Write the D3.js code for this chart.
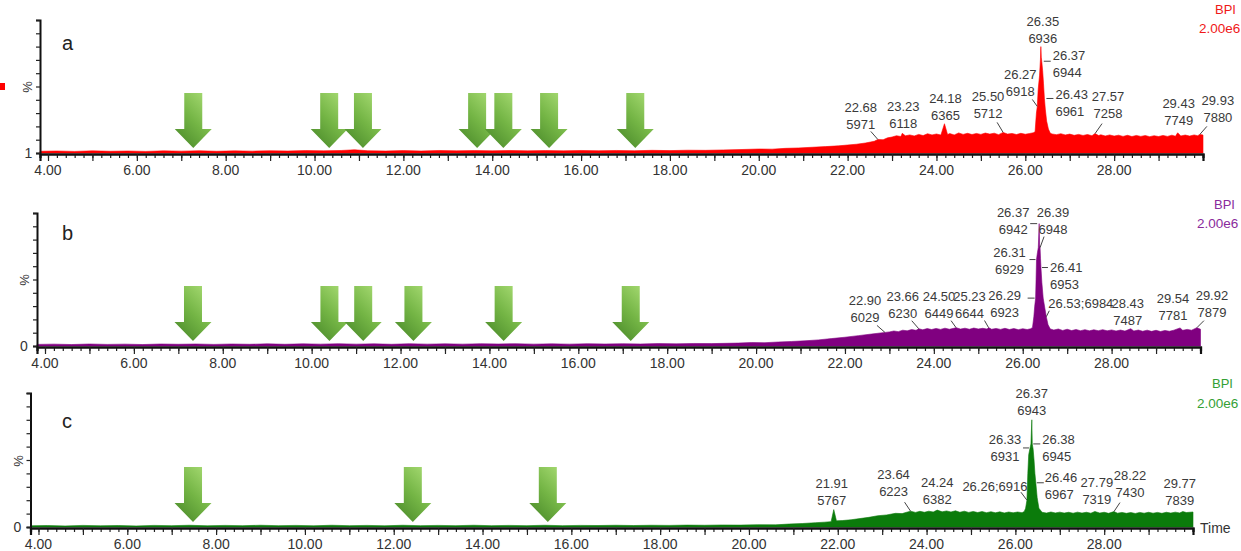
<!DOCTYPE html>
<html><head><meta charset="utf-8">
<script src="https://cdn.jsdelivr.net/npm/d3@7"></script>
<style>
body{margin:0;background:#fff;}
svg{display:block;}
text{font-family:"Liberation Sans",Arial,sans-serif;}
</style>
</head><body>
<svg id="chart" width="1241" height="551"></svg>
<script>
// ---------- data ----------
const xTickValues = [4,6,8,10,12,14,16,18,20,22,24,26,28];
const xTickLabels = ["4.00","6.00","8.00","10.00","12.00","14.00","16.00","18.00","20.00","22.00","24.00","26.00","28.00"];
const yTickPercent = [0,10,20,30,40,50,60,70,80,90,100];
const panelNames = ["a","b","c"];
const yZeroLabels = ["1","0","0"];
const traceName = "BPI";
const scaleLabel = "2.00e6";
const timeLabel = "Time";

// trace a: [retention time (min), relative intensity (%)]
const traceA = [
[3.82,1.3],[4.2,1.5],[4.6,1.2],[5.0,1.6],[5.4,1.3],[5.8,1.5],[6.2,1.2],[6.6,1.6],[7.0,1.4],[7.4,1.7],[7.8,1.3],[8.2,1.6],[8.6,1.4],[9.0,1.7],[9.4,1.5],[9.8,1.8],[10.2,1.6],[10.6,1.9],[10.9,2.4],[11.2,1.7],[11.6,1.5],[12.0,1.8],[12.4,1.5],[12.8,1.9],[13.2,1.6],[13.6,1.8],[14.0,1.6],[14.4,1.9],[14.8,1.6],[15.2,1.8],[15.6,1.6],[16.0,1.9],[16.4,1.7],[16.8,1.9],[17.2,1.7],[17.6,2.0],[18.0,1.8],[18.4,2.1],[18.8,2.0],
[19.2,2.3],[19.6,2.6],[20.0,3.0],[20.3,2.9],[20.6,3.5],[20.9,3.8],[21.2,4.3],[21.5,4.8],[21.8,5.4],[22.0,6.0],[22.2,6.6],[22.4,7.5],[22.6,8.8],[22.68,10.2],[22.8,10.0],[22.9,11.4],[23.0,12.0],
[23.1,13.0],[23.2,12.4],[23.23,14.8],[23.3,12.9],[23.4,13.6],[23.5,12.8],[23.6,14.0],[23.7,13.1],[23.8,14.5],[23.9,13.6],[24.0,14.3],[24.1,13.5],[24.18,22.0],[24.25,13.9],[24.3,14.6],[24.4,13.6],[24.5,15.1],[24.6,14.0],[24.7,14.8],[24.8,13.9],[24.9,14.7],[25.0,14.0],[25.1,15.0],[25.2,14.2],[25.3,14.9],[25.4,13.8],[25.5,15.5],[25.6,14.2],[25.7,14.7],[25.8,13.9],[25.9,14.8],[26.0,14.1],[26.1,14.7],[26.18,15.2],
[26.22,16],[26.25,30],[26.27,35],[26.29,48],[26.32,58],[26.34,70],[26.35,80],[26.36,72],[26.37,69],[26.39,62],[26.41,52],[26.43,41],[26.45,33],[26.48,24],[26.52,18],[26.56,15],
[26.6,14.3],[26.7,13.8],[26.8,14.5],[26.9,13.6],[27.0,14.2],[27.1,13.3],[27.2,14.0],[27.3,13.2],[27.4,13.9],[27.5,13.0],[27.57,14.6],[27.65,13.1],[27.7,13.7],[27.8,12.8],[27.9,13.6],[28.0,12.7],[28.1,13.4],[28.2,12.5],[28.3,13.3],[28.4,12.4],[28.5,13.2],[28.6,12.5],[28.7,13.1],[28.8,12.3],[28.9,13.0],[29.0,12.4],[29.1,13.2],[29.2,12.5],[29.3,13.4],[29.38,12.6],[29.43,15.2],[29.5,12.8],[29.6,13.5],[29.7,12.7],[29.8,13.6],[29.88,13.0],[29.93,14.0],[30.0,13.5]
];
const traceB = [
[3.82,1.2],[4.2,1.4],[4.6,1.1],[5.0,1.5],[5.4,1.2],[5.8,1.4],[6.2,1.1],[6.6,1.5],[7.0,1.3],[7.4,1.5],[7.8,1.2],[8.2,1.5],[8.6,1.3],[9.0,1.6],[9.4,1.3],[9.8,1.6],[10.2,1.4],[10.6,1.7],[11.0,1.4],[11.4,1.6],[11.8,1.3],[12.2,1.7],[12.6,1.4],[13.0,1.6],[13.4,1.4],[13.8,1.7],[14.2,1.5],[14.6,1.7],[15.0,1.4],[15.4,1.6],[15.8,1.4],[16.2,1.7],[16.6,1.5],[17.0,1.7],[17.4,1.5],[17.8,1.8],[18.2,1.6],[18.6,1.9],[19.0,1.8],
[19.3,2.0],[19.6,2.2],[19.9,2.6],[20.2,2.5],[20.5,3.0],[20.8,3.4],[21.1,3.9],[21.4,4.6],[21.7,5.6],[22.0,6.6],[22.3,7.8],[22.6,9.0],[22.9,10.2],[23.0,10.6],[23.1,11.3],[23.2,10.8],[23.3,11.9],[23.4,11.4],[23.5,12.4],[23.6,11.8],[23.66,13.0],[23.75,12.2],[23.85,13.1],[23.95,12.4],
[24.05,13.2],[24.15,12.5],[24.25,13.4],[24.35,12.6],[24.45,13.3],[24.5,13.8],[24.6,12.7],[24.7,13.4],[24.8,12.6],[24.9,13.5],[25.0,12.8],[25.1,13.3],[25.2,12.7],[25.23,13.9],[25.3,12.6],[25.4,13.2],[25.5,12.5],[25.6,13.3],[25.7,12.4],[25.8,13.1],[25.9,12.3],[26.0,13.0],[26.1,12.4],[26.18,13.0],
[26.22,14],[26.25,22],[26.27,30],[26.29,36],[26.3,50],[26.31,65],[26.33,70],[26.35,74],[26.37,92],[26.38,76],[26.39,74],[26.4,66],[26.41,59],[26.43,48],[26.46,36],[26.5,28],[26.53,22],[26.57,16],
[26.62,12.8],[26.7,12.0],[26.8,12.8],[26.9,11.7],[27.0,12.6],[27.1,11.6],[27.2,12.4],[27.3,11.5],[27.4,12.3],[27.5,11.4],[27.6,12.2],[27.7,11.5],[27.8,12.3],[27.9,11.4],[28.0,12.1],[28.1,11.3],[28.2,12.0],[28.3,11.2],[28.43,13.0],[28.5,11.3],[28.6,12.0],[28.7,11.1],[28.8,11.9],[28.9,11.0],[29.0,11.8],[29.1,10.9],[29.2,11.7],[29.3,11.1],[29.4,11.9],[29.54,13.6],[29.6,11.8],[29.7,12.5],[29.8,11.9],[29.92,13.8],[30.0,12.6]
];
const traceC = [
[3.82,0.9],[4.2,1.1],[4.6,0.8],[5.0,1.2],[5.4,0.9],[5.8,1.1],[6.2,0.8],[6.6,1.2],[7.0,1.0],[7.4,1.3],[7.8,0.9],[8.2,1.2],[8.6,1.0],[9.0,1.3],[9.4,1.0],[9.8,1.2],[10.2,0.9],[10.6,1.3],[11.0,1.0],[11.4,1.2],[11.8,0.9],[12.2,1.3],[12.6,1.0],[13.0,1.2],[13.4,1.0],[13.8,1.3],[14.2,1.0],[14.6,1.2],[15.0,1.0],[15.4,1.3],[15.8,1.0],[16.2,1.2],[16.6,1.1],[17.0,1.3],[17.4,1.1],[17.8,1.3],[18.2,1.2],[18.6,1.4],[19.0,1.3],[19.4,1.5],[19.8,1.4],[20.2,1.7],[20.6,1.6],
[20.9,2.2],[21.2,2.6],[21.5,3.2],[21.7,3.6],[21.85,4.0],[21.91,13.0],[21.97,4.6],[22.1,4.8],[22.3,5.4],[22.5,6.3],[22.7,7.2],[22.9,8.4],[23.1,9.0],[23.3,10.2],[23.45,10.0],[23.55,11.0],[23.64,11.8],[23.75,10.9],[23.85,11.7],[23.95,11.0],
[24.05,11.8],[24.15,11.2],[24.24,12.6],[24.35,11.3],[24.45,12.0],[24.55,11.2],[24.65,12.1],[24.75,11.0],[24.85,11.8],[24.95,10.9],[25.05,11.6],[25.15,10.8],[25.25,11.5],[25.35,10.7],[25.45,11.4],[25.55,10.6],[25.65,11.3],[25.75,10.5],[25.85,11.2],[25.95,10.6],[26.05,11.2],[26.15,10.7],[26.2,11.5],
[26.23,14],[26.26,20],[26.28,40],[26.3,54],[26.33,59],[26.35,62],[26.37,80],[26.38,62],[26.4,58],[26.42,50],[26.44,40],[26.46,33],[26.49,22],[26.53,14],
[26.6,11.0],[26.7,10.4],[26.8,11.2],[26.9,10.5],[27.0,11.1],[27.1,10.4],[27.2,11.0],[27.3,10.3],[27.4,11.1],[27.5,10.4],[27.6,11.0],[27.7,10.3],[27.79,11.6],[27.9,10.4],[28.0,11.0],[28.1,10.2],[28.22,11.5],[28.3,10.3],[28.4,10.9],[28.5,10.2],[28.6,10.8],[28.7,10.1],[28.8,10.9],[28.9,10.3],[29.0,11.0],[29.1,10.3],[29.2,10.9],[29.3,10.2],[29.4,11.0],[29.5,10.4],[29.6,11.1],[29.7,10.5],[29.77,11.5],[29.85,10.8],[30.0,11.2]
];

// peak annotations: [retention time, scan number]
const peaksA = [["26.35","6936"],["26.37","6944"],["26.27","6918"],["26.43","6961"],["22.68","5971"],["23.23","6118"],["24.18","6365"],["25.50","5712"],["27.57","7258"],["29.43","7749"],["29.93","7880"]];
const peaksB = [["26.37","6942"],["26.39","6948"],["26.31","6929"],["26.41","6953"],["26.29","6923"],["26.53","6984"],["28.43","7487"],["22.90","6029"],["23.66","6230"],["24.50","6449"],["25.23","6644"],["29.54","7781"],["29.92","7879"]];
const peaksC = [["26.37","6943"],["26.33","6931"],["26.38","6945"],["21.91","5767"],["23.64","6223"],["24.24","6382"],["26.26","6916"],["26.46","6967"],["27.79","7319"],["28.22","7430"],["29.77","7839"]];

// arrow marker retention times
const arrowsA = [7.27,10.33,11.09,13.66,14.25,15.28,17.22];
const arrowsB = [7.33,10.40,11.16,12.29,14.32,17.18];
const arrowsC = [7.48,12.43,15.47];

// ---------- layout (pixels / styles) ----------
// label layout: [dx, dy (first baseline), anchor, inline, leader offsets or null]
const labelLayoutA = [
 [2,-21,"middle",0,null],
 [11,-1,"start",0,[2,0,9,0]],
 [-17,-27.5,"middle",0,[0,0,-5,-7]],
 [11,0.5,"start",0,[2,0,9,0]],
 [-17,-27,"middle",0,[0,0,-7,-8]],
 [1,-22.7,"middle",0,null],
 [1,-20.7,"middle",0,null],
 [-15,-31,"middle",0,[0,0,-6,-10]],
 [13,-33,"middle",0,[0,0,7,-10]],
 [1,-25,"middle",0,null],
 [18,-29,"middle",0,[0,0,7,-8]]
];
const labelLayoutB = [
 [-26,-7,"middle",0,[-2,0,-9,0]],
 [13,-31,"middle",0,[0,0,4,-11]],
 [-27,-2.5,"middle",0,[-1,0,-7,0]],
 [9,4.5,"start",0,[1,0,7,0]],
 [-31,2,"middle",0,[-1,0,-8,0]],
 [2,-8.7,"start",1,[0,0,3,-6]],
 [-3,-20.7,"middle",0,null],
 [-20,-27.7,"middle",0,[0,0,-8,-7]],
 [-16,-28,"middle",0,[0,0,-7,-8]],
 [-17,-26.7,"middle",0,[0,0,-5,-7]],
 [-19,-26.7,"middle",0,[0,0,-4,-7]],
 [-7,-25.4,"middle",0,null],
 [15,-27.4,"middle",0,[0,0,7,-7]]
];
const labelLayoutC = [
 [0,-22,"middle",0,null],
 [-25,-4,"middle",0,[-1,0,-7,0]],
 [10,0,"start",0,[1,0,8,0]],
 [-2,-21.6,"middle",0,null],
 [-17,-32,"middle",0,[0,0,-6,-9]],
 [0,-23,"middle",0,null],
 [-32,-9,"middle",1,[0,0,-6,-8]],
 [9,-1,"start",0,[1,0,8,0]],
 [2,-24,"middle",0,null],
 [16,-32,"middle",0,[0,0,6,-9]],
 [-3,-24,"middle",0,null]
];

const panels = [
 {trace:traceA, peaks:peaksA, layout:labelLayoutA, arrows:arrowsA, x0:40, x1:1203, yBase:153, yTop:20,
  fill:"#ff0000", accent:"#f01818", letterY:50, pctX:27, pctY:87, zeroX:28.5, bpiX:1215, bpiY:14, scaleX:1199, scaleY:33},
 {trace:traceB, peaks:peaksB, layout:labelLayoutB, arrows:arrowsB, x0:37, x1:1200.5, yBase:346, yTop:213,
  fill:"#800080", accent:"#8a2b9c", letterY:240, pctX:24, pctY:280, zeroX:24, bpiX:1214, bpiY:209, scaleX:1197, scaleY:228},
 {trace:traceC, peaks:peaksC, layout:labelLayoutC, arrows:arrowsC, x0:30.5, x1:1193, yBase:527, yTop:393,
  fill:"#0b7b0b", accent:"#34a034", letterY:428, pctX:18, pctY:461, zeroX:17.5, bpiX:1212, bpiY:388, scaleX:1197, scaleY:408}
];
const xDomain = [3.82, 30.0];

// ---------- drawing ----------
const svg = d3.select("#chart");
const defs = svg.append("defs");
const grad = defs.append("linearGradient").attr("id","arrowGrad")
  .attr("x1","0.85").attr("y1","0").attr("x2","0.15").attr("y2","1");
grad.append("stop").attr("offset","0").attr("stop-color","#a6da72");
grad.append("stop").attr("offset","0.5").attr("stop-color","#74b545");
grad.append("stop").attr("offset","1").attr("stop-color","#4a8a2a");

// stray red marker on left margin
svg.append("rect").attr("x",0).attr("y",83).attr("width",5).attr("height",7).attr("fill","#ff0000");

panels.forEach((p, pi) => {
  const g = svg.append("g");
  const x = d3.scaleLinear().domain(xDomain).range([p.x0, p.x1]);
  const y = d3.scaleLinear().domain([0,100]).range([p.yBase, p.yTop]);

  // trace
  const area = d3.area().x(d => x(d[0])).y0(y(0)).y1(d => y(d[1]));
  g.append("path").datum(p.trace).attr("d", area).attr("fill", p.fill).attr("stroke", p.fill).attr("stroke-width",0.6);

  // x axis: major integer ticks, minor ticks
  const majors = d3.range(4, 30, 1);
  const minors = d3.range(4, 29.95, 0.2);
  const ax = g.append("g").attr("transform", `translate(0,${p.yBase+1})`);
  ax.call(d3.axisBottom(x).tickValues(minors).tickSize(4).tickFormat(""));
  ax.append("g").call(d3.axisBottom(x).tickValues(majors).tickSize(7).tickFormat(""));
  ax.selectAll("path.domain").attr("stroke","#111").attr("stroke-width",2.2);
  ax.selectAll(".tick line").attr("stroke","#222").attr("stroke-width",1.2);
  g.append("g").selectAll("text").data(xTickValues).join("text")
    .attr("x", d => x(d)).attr("y", p.yBase + 22)
    .attr("text-anchor","middle").attr("font-size",14).attr("fill","#333")
    .text((d,i) => xTickLabels[i]);

  // y axis
  const ay = g.append("g").attr("transform", `translate(${p.x0},0)`);
  ay.call(d3.axisLeft(y).tickValues(yTickPercent).tickSize(4).tickFormat(""));
  ay.selectAll("path.domain").attr("stroke","#111").attr("stroke-width",2);
  ay.selectAll(".tick line").attr("stroke","#222").attr("stroke-width",1.2);
  g.append("text").attr("x", p.zeroX).attr("y", p.yBase + 5).attr("text-anchor","middle")
    .attr("font-size",14).attr("fill","#333").text(yZeroLabels[pi]);
  g.append("text").attr("transform", `translate(${p.pctX},${p.pctY}) rotate(-90)`)
    .attr("text-anchor","middle").attr("dy","0.35em").attr("font-size",13).attr("fill","#333").text("%");

  // panel letter
  g.append("text").attr("x", 62).attr("y", p.letterY)
    .attr("font-family","'Liberation Serif','Times New Roman',serif").attr("font-size",20).attr("fill","#222")
    .text(panelNames[pi]);

  // BPI / scale
  g.append("text").attr("x", p.bpiX).attr("y", p.bpiY)
    .attr("font-size",13).attr("fill",p.accent).text(traceName);
  g.append("text").attr("x", p.scaleX).attr("y", p.scaleY)
    .attr("font-size",13.5).attr("fill",p.accent).text(scaleLabel);

  // arrows
  const tipY = p.yBase - 5;
  const arrowPath = (tx) => {
    const H = 55, sw = 9, hw = 18.5, hh = 19, ty = tipY;
    return `M${tx-sw},${ty-H}L${tx+sw},${ty-H}L${tx+sw},${ty-hh}L${tx+hw},${ty-hh}L${tx},${ty}L${tx-hw},${ty-hh}L${tx-sw},${ty-hh}Z`;
  };
  g.append("g").selectAll("path").data(p.arrows).join("path")
    .attr("d", d => arrowPath(x(d))).attr("fill","url(#arrowGrad)");

  // peak labels
  const valueAt = t => {
    let best = p.trace[0];
    p.trace.forEach(d => { if (Math.abs(d[0]-t) < Math.abs(best[0]-t)) best = d; });
    return best[1];
  };
  const lg = g.append("g");
  p.peaks.forEach((pk, i) => {
    const t = parseFloat(pk[0]);
    const px = x(t), py = y(valueAt(t));
    const [dx, dy, anchor, inline, leader] = p.layout[i];
    const tx = px + dx, ty = py + dy;
    if (inline) {
      lg.append("text").attr("x", tx).attr("y", ty).attr("text-anchor", anchor)
        .attr("font-size",13).attr("fill","#3a3a3a").text(pk[0] + ";" + pk[1]);
    } else {
      lg.append("text").attr("x", tx).attr("y", ty).attr("text-anchor", anchor)
        .attr("font-size",13).attr("fill","#3a3a3a").text(pk[0]);
      lg.append("text").attr("x", tx).attr("y", ty + 17).attr("text-anchor", anchor)
        .attr("font-size",13).attr("fill","#3a3a3a").text(pk[1]);
    }
    if (leader) {
      lg.append("line").attr("x1", px+leader[0]).attr("y1", py+leader[1])
        .attr("x2", px+leader[2]).attr("y2", py+leader[3])
        .attr("stroke","#444").attr("stroke-width",1);
    }
  });

  if (pi === 2) {
    g.append("text").attr("x", 1200).attr("y", 533).attr("font-size",14).attr("fill","#333").text(timeLabel);
  }
});
</script>
</body></html>
